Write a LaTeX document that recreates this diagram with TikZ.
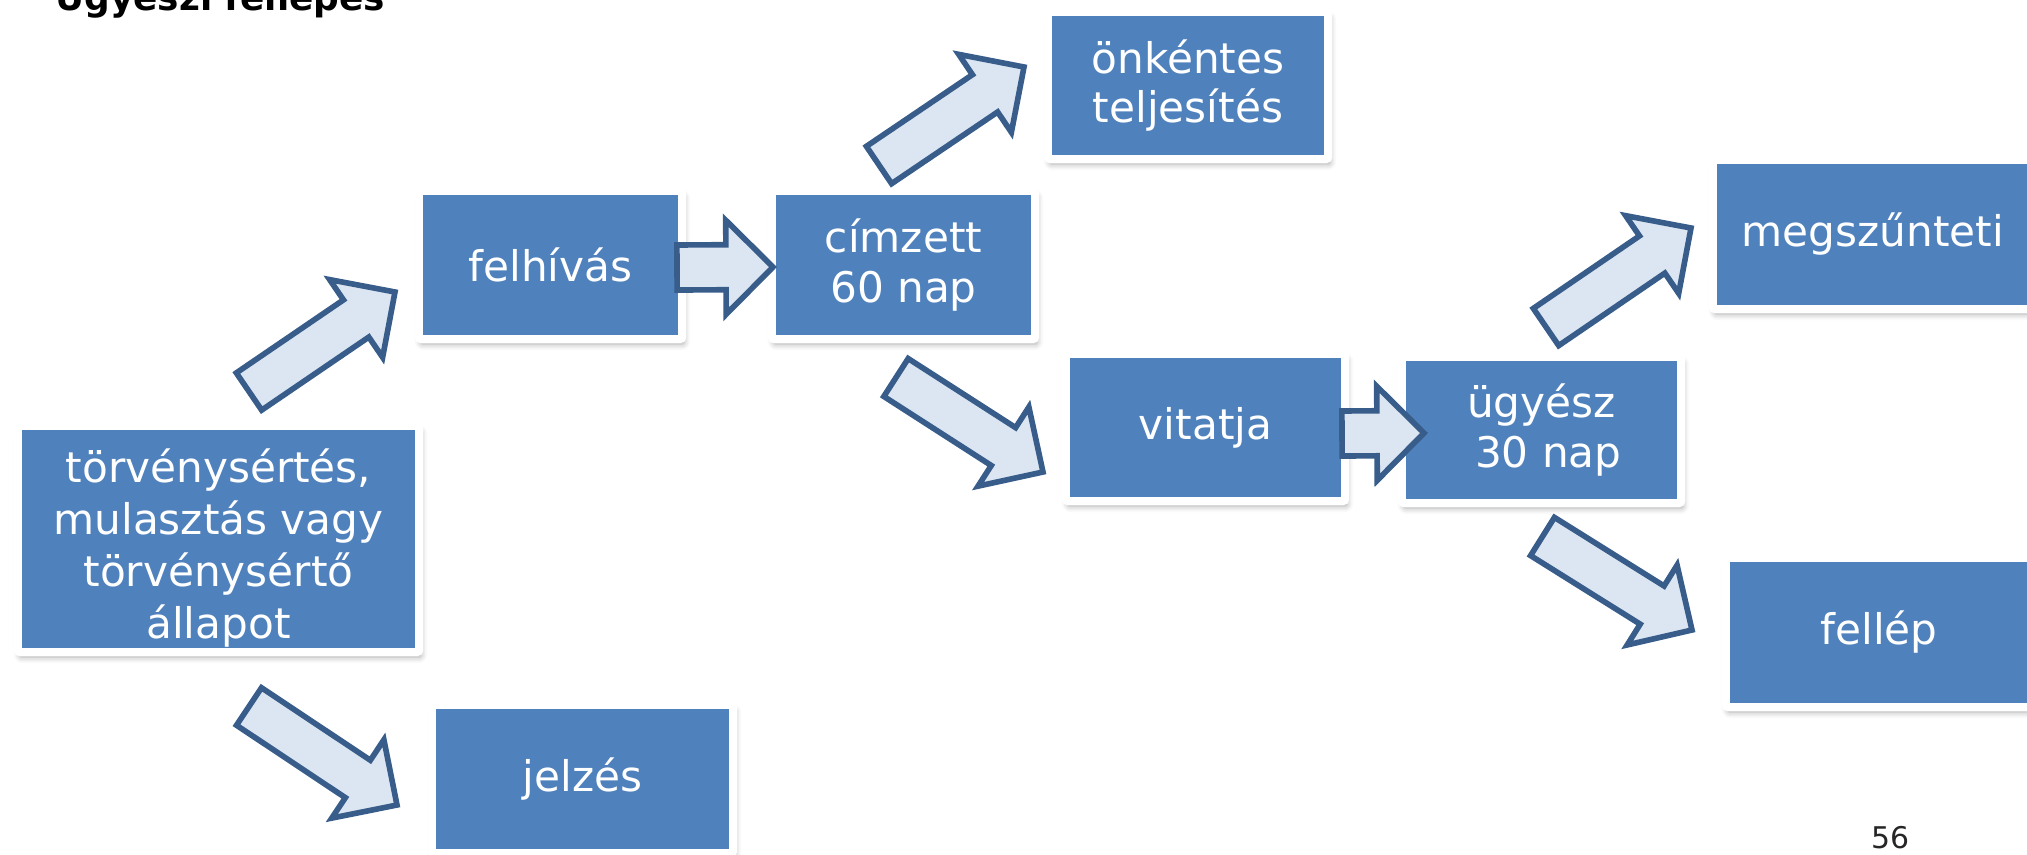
\documentclass[tikz,border=0pt]{standalone}
\usepackage{fontspec}
\setmainfont{DejaVu Sans}
\usetikzlibrary{calc}
\usetikzlibrary{shadows.blur}

\definecolor{boxblue}{RGB}{79,129,189}
\definecolor{arrowfill}{RGB}{220,230,242}
\definecolor{arrowline}{RGB}{56,93,138}

\tikzset{
  stepbox/.style={rectangle, fill=boxblue, draw=white, line width=0.08cm,
    rounded corners=0.02cm, text=white, align=center, inner sep=0pt,
    font=\fontsize{12}{14.2}\selectfont,
    blur shadow={shadow xshift=0.02cm, shadow yshift=-0.05cm,
      shadow blur radius=0.06cm, shadow opacity=35}},
  blockarrow/.style={draw=arrowline, fill=arrowfill, line width=1.6pt, line join=miter,
    to path={($(\tikztostart)!0.225cm!90:(\tikztotarget)$)
      -- ($($(\tikztotarget)!0.47cm!(\tikztostart)$)!0.225cm!-90:(\tikztostart)$)
      -- ($($(\tikztotarget)!0.47cm!(\tikztostart)$)!0.47cm!-90:(\tikztostart)$)
      -- (\tikztotarget)
      -- ($($(\tikztotarget)!0.47cm!(\tikztostart)$)!0.47cm!90:(\tikztostart)$)
      -- ($($(\tikztotarget)!0.47cm!(\tikztostart)$)!0.225cm!90:(\tikztostart)$)
      -- ($(\tikztostart)!0.225cm!-90:(\tikztotarget)$)
      -- cycle}}
}

\begin{document}
\begin{tikzpicture}[x=0.01cm, y=-0.01cm]
    \useasboundingbox (0,0) rectangle (2027,854);

    \node[font=\bfseries\fontsize{10.2}{12}\selectfont, anchor=base west] (title) at (43,10) {Ügyészi fellépés};

    % boxes
    \node[stepbox, minimum width=4.01cm, minimum height=2.26cm, font=\fontsize{12}{14.8}\selectfont] (viol) at (218.5,539) {\rule{0pt}{0.52cm}törvénysértés,\\mulasztás vagy\\törvénysértő\\állapot};
    \node[stepbox, minimum width=2.63cm, minimum height=1.48cm] (call) at (550.5,265) {felhívás};
    \node[stepbox, minimum width=2.63cm, minimum height=1.48cm] (addr) at (903.5,265) {címzett\\60 nap};
    \node[stepbox, minimum width=2.80cm, minimum height=1.47cm] (comply) at (1188,85.5) {önkéntes\\teljesítés};
    \node[stepbox, minimum width=2.79cm, minimum height=1.47cm] (dispute) at (1205.5,427.5) {vitatja};
    \node[stepbox, minimum width=2.79cm, minimum height=1.46cm] (pros) at (1541.5,430) {ügyész\\\hspace*{.32em}30 nap};
    \node[stepbox, minimum width=3.20cm, minimum height=1.49cm] (drop) at (1873,234.5) {megszűnteti};
    \node[stepbox, minimum width=3.06cm, minimum height=1.49cm] (act) at (1879,632.5) {fellép};
    \node[stepbox, minimum width=3.01cm, minimum height=1.48cm] (signal) at (582.5,779) {jelzés};

    % arrow ends
    \coordinate (t1) at (249,391.5);  \coordinate (h1) at (395,292);
    \coordinate (t2) at (677,267.5);  \coordinate (h2) at (773,267);
    \coordinate (t3) at (879,165);    \coordinate (h3) at (1024,67);
    \coordinate (t4) at (896,377.5);  \coordinate (h4) at (1043,472);
    \coordinate (t5) at (1342,433.5); \coordinate (h5) at (1424,433);
    \coordinate (t6) at (1546,327);   \coordinate (h6) at (1691,228);
    \coordinate (t7) at (1542.5,536.5); \coordinate (h7) at (1692,630);
    \coordinate (t8) at (249,706.5);  \coordinate (h8) at (397,805);

    \draw[blockarrow] (t1) to (h1);
    \draw[blockarrow] (t2) to (h2);
    \draw[blockarrow] (t3) to (h3);
    \draw[blockarrow] (t4) to (h4);
    \draw[blockarrow] (t5) to (h5);
    \draw[blockarrow] (t6) to (h6);
    \draw[blockarrow] (t7) to (h7);
    \draw[blockarrow] (t8) to (h8);

    \node[font=\fontsize{8.5}{10}\selectfont, anchor=base, text=black!85] (page) at (1890,848) {56};
\end{tikzpicture}
\end{document}
